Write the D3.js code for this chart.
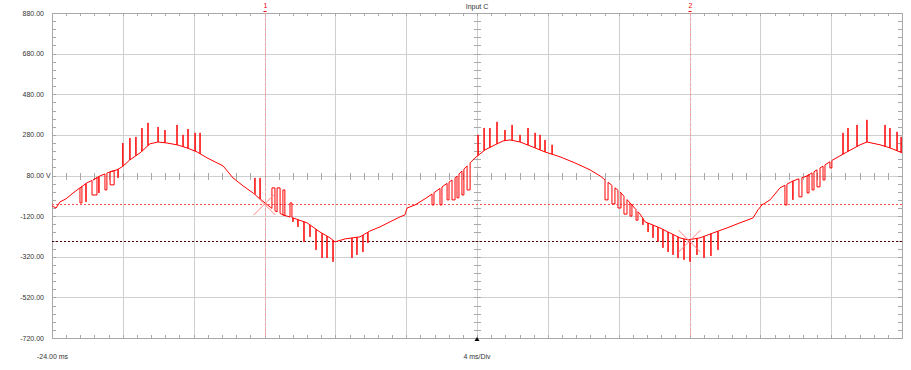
<!DOCTYPE html>
<html><head><meta charset="utf-8">
<script src="https://cdn.jsdelivr.net/npm/d3@7"></script>
<style>
html,body{margin:0;padding:0;background:#fff;}
svg{display:block;}
text{font-family:"Liberation Sans",Arial,sans-serif;}
</style></head>
<body>
<svg id="chart" width="911" height="370"></svg>
<script>
// ---- data (ms, V) ----
const title = "Input C";
const timeStart = -24, timeEnd = 24, msPerDiv = 4;
const voltTicks = [880, 680, 480, 280, 80, -120, -320, -520, -720];
const voltUnit = "V";
const bottomLeftLabel = "-24.00 ms";
const bottomCenterLabel = "4 ms/Div";
// base waveform
const baseT = [-24.00,-23.77,-23.55,-23.21,-22.81,-22.42,-22.02,-21.68,-21.29,-20.72,-20.33,-20.05,-19.60,-19.03,-18.47,-18.01,-17.51,-16.94,-16.38,-15.81,-15.25,-14.68,-14.34,-14.06,-13.78,-13.21,-12.65,-11.97,-11.41,-10.96,-10.39,-9.60,-8.87,-8.30,-8.02,-7.45,-6.61,-6.04,-5.48,-4.91,-4.35,-4.07,-3.95,-3.50,-2.94,-2.37,-1.81,-1.24,-0.68,-0.11,0.45,1.02,1.47,1.86,2.43,2.99,3.84,4.69,5.53,6.38,6.95,7.51,8.08,8.64,9.20,9.49,10.33,10.90,11.46,11.92,12.59,13.33,14.12,14.85,15.59,15.87,16.09,16.55,17.11,17.84,18.64,19.37,20.10,20.89,21.63,22.02,22.76,23.32,23.89,24.00];
const baseV = [-70,-80,-50,-35,-6,19,44,58,78,98,108,122,157,191,236,245,240,231,216,196,167,142,127,98,68,29,-6,-55,-94,-114,-129,-153,-198,-227,-247,-232,-222,-193,-173,-148,-124,-114,-80,-65,-35,-1,34,68,117,167,206,231,250,255,245,226,196,172,142,108,78,39,-1,-55,-109,-148,-178,-203,-227,-237,-227,-203,-178,-153,-129,-89,-65,-40,19,53,78,117,157,196,231,245,231,216,196,191];
// switching pulses: start time, duration (0 = single spike), level
const pulseT = [-22.42,-22.08,-21.74,-21.35,-21.01,-20.72,-20.27,
  -20.00,-19.60,-19.26,-18.92,-18.58,-18.01,-17.62,-16.94,-16.60,-16.32,-15.92,-15.64,
  -12.54,-12.25,-11.58,-11.29,-10.96,-10.56,
  -10.39,-10.11,-9.77,-9.43,-9.09,-8.75,-8.47,-8.13,-7.06,-6.78,-6.44,-6.16,
  -2.54,-2.09,-1.69,-1.41,-1.13,-0.85,-0.56,
  0.06,0.40,0.73,1.13,1.58,1.98,2.43,2.88,3.28,3.56,3.84,4.24,
  7.23,7.62,7.96,8.30,8.64,8.98,
  9.37,9.66,9.94,10.22,10.50,10.79,11.07,11.35,11.69,12.03,12.42,12.82,13.21,13.61,
  17.39,17.84,18.18,18.64,18.92,19.20,19.54,19.93,
  20.67,20.95,21.46,22.02,23.04,23.32,23.72,23.95];
const pulseW = [0.11,0,0.28,0,0.11,0.23,0,
  0,0,0,0,0,0,0,0,0,0,0,0,
  0,0,0.17,0.17,0.11,0.11,
  0,0,0,0,0,0,0,0,0,0,0,0,
  0.11,0.11,0.11,0.17,0.11,0.11,0.17,
  0,0,0,0,0,0,0,0,0,0,0,0,
  0.17,0.17,0.17,0.17,0.11,0.11,
  0,0,0,0,0,0,0,0,0,0,0,0,0,0,
  0.11,0,0.17,0.11,0.11,0.17,0.11,0.11,
  0,0,0,0,0,0,0,0];
const pulseV = [-55,-50,-16,-6,9,34,68,
  240,265,270,314,339,319,304,329,280,309,290,290,
  68,68,19,19,9,-55,
  -148,-173,-247,-222,-286,-326,-326,-345,-326,-311,-296,-252,
  -65,-65,-40,-40,-30,-16,9,
  280,314,314,344,304,329,280,314,290,280,255,231,
  -40,-60,-80,-110,-120,-140,
  -163,-198,-227,-247,-276,-296,-311,-326,-335,-345,-311,-326,-316,-286,
  -65,-40,-25,-6,9,24,58,117,
  290,314,329,354,329,314,295,270];
// cursors
const markerNames = ["1", "2"];
const markerT = [-12, 12];
const markerV = [-61, -243];

// ---- layout ----
const L = 52, R = 902, T = 13, B = 338;
const svg = d3.select("#chart");
const x = d3.scaleLinear().domain([timeStart, timeEnd]).range([L, R]);
const y = d3.scaleLinear().domain([-720, 880]).range([B, T]);
const gridCol = "#cfcfcf", tickCol = "#a8a8a8", textCol = "#333";

const g = svg.append("g");
const divT = d3.range(timeStart, timeEnd + 0.001, msPerDiv);
g.selectAll(".vg").data(divT).join("line")
  .attr("x1", d => Math.round(x(d)) + 0.5).attr("x2", d => Math.round(x(d)) + 0.5)
  .attr("y1", T).attr("y2", B).attr("stroke", gridCol).attr("stroke-width", 1);
g.selectAll(".hg").data(voltTicks).join("line")
  .attr("y1", d => Math.round(y(d)) + 0.5).attr("y2", d => Math.round(y(d)) + 0.5)
  .attr("x1", L).attr("x2", R).attr("stroke", gridCol).attr("stroke-width", 1);

const minorT = d3.range(timeStart, timeEnd + 0.001, msPerDiv / 5);
const minorV = d3.range(-720, 880.001, 40);
const tk = svg.append("g").attr("stroke", tickCol).attr("stroke-width", 1);
minorT.forEach(t => {
  const px = Math.round(x(t)) + 0.5;
  tk.append("line").attr("x1", px).attr("x2", px).attr("y1", T).attr("y2", T + 3);
  tk.append("line").attr("x1", px).attr("x2", px).attr("y1", B - 3).attr("y2", B);
  const cy = Math.round(y(80));
  tk.append("line").attr("x1", px).attr("x2", px).attr("y1", cy - 3).attr("y2", cy + 4);
});
minorV.forEach(v => {
  const py = Math.round(y(v)) + 0.5;
  tk.append("line").attr("y1", py).attr("y2", py).attr("x1", L).attr("x2", L + 4);
  tk.append("line").attr("y1", py).attr("y2", py).attr("x1", R - 4).attr("x2", R);
  const cx = Math.round(x(0));
  tk.append("line").attr("y1", py).attr("y2", py).attr("x1", cx - 3).attr("x2", cx + 4);
});
svg.append("rect").attr("x", L + 0.5).attr("y", T + 0.5).attr("width", R - L).attr("height", B - T)
  .attr("fill", "none").attr("stroke", tickCol);

svg.selectAll(".yl").data(voltTicks).join("text")
  .attr("x", 44).attr("y", d => y(d) + 2.5)
  .attr("text-anchor", "end").attr("font-size", 7).attr("fill", textCol)
  .text(d => d.toFixed(2));
svg.append("text").attr("x", 46).attr("y", y(80) + 2.5).attr("font-size", 7).attr("fill", textCol).text(voltUnit);

svg.append("text").attr("x", 37).attr("y", 359).attr("font-size", 7).attr("fill", textCol).text(bottomLeftLabel);
svg.append("text").attr("x", x(0)).attr("y", 359).attr("text-anchor", "middle").attr("font-size", 7).attr("fill", textCol).text(bottomCenterLabel);
svg.append("text").attr("x", x(0)).attr("y", 9).attr("text-anchor", "middle").attr("font-size", 7).attr("fill", textCol).text(title);
const tx = x(0);
svg.append("path").attr("d", `M${tx - 2.5},${B + 3}L${tx + 2.5},${B + 3}L${tx},${B - 1}Z`).attr("fill", "#000");

svg.append("line").attr("x1", L).attr("x2", R).attr("y1", Math.round(y(markerV[0])) + 0.5).attr("y2", Math.round(y(markerV[0])) + 0.5)
  .attr("stroke", "#ff5050").attr("stroke-dasharray", "2,2");
svg.append("line").attr("x1", L).attr("x2", R).attr("y1", Math.round(y(markerV[1])) + 0.5).attr("y2", Math.round(y(markerV[1])) + 0.5)
  .attr("stroke", "#500000").attr("stroke-dasharray", "2,2");
markerT.forEach((t, i) => {
  const px = Math.round(x(t)) + 0.5;
  svg.append("line").attr("x1", px).attr("x2", px).attr("y1", T).attr("y2", B)
    .attr("stroke", "#f4a0a0").attr("stroke-dasharray", "3,2");
  svg.append("text").attr("x", px).attr("y", 8).attr("text-anchor", "middle").attr("font-size", 7)
    .attr("fill", "#e00").text(markerNames[i]);
  svg.append("line").attr("x1", px - 2).attr("x2", px + 1).attr("y1", 11.5).attr("y2", 11.5).attr("stroke", "#e00");
});

const pulses = pulseT.map((t, i) => ({t0: t, t1: t + pulseW[i], v: pulseV[i]}));
const baseAt = t => {
  let i = d3.bisectRight(baseT, t) - 1;
  i = Math.max(0, Math.min(baseT.length - 2, i));
  const f = (t - baseT[i]) / (baseT[i + 1] - baseT[i]);
  return baseV[i] + f * (baseV[i + 1] - baseV[i]);
};
const pts = [];
let pi = 0;
for (let i = 0; i < baseT.length; i++) {
  while (pi < pulses.length && pulses[pi].t0 <= baseT[i]) {
    const p = pulses[pi];
    if (p.t1 > p.t0) pts.push([p.t0, baseAt(p.t0)], [p.t0, p.v], [p.t1, p.v], [p.t1, baseAt(p.t1)]);
    else pts.push([p.t0, baseAt(p.t0)], [p.t0, p.v], [p.t0, baseAt(p.t0)]);
    pi++;
  }
  pts.push([baseT[i], baseV[i]]);
}
const line = d3.line().x(d => x(d[0])).y(d => y(d[1]));
svg.append("path").datum(pts).attr("d", line).attr("fill", "none").attr("stroke", "#ff0000").attr("stroke-width", 1);

markerT.forEach((t, i) => {
  const cx = x(t), cy = y(markerV[i]), s = 11;
  svg.append("path").attr("d", `M${cx - s},${cy - s}L${cx + s},${cy + s}M${cx - s},${cy + s}L${cx + s},${cy - s}`)
    .attr("stroke", "#ff8080").attr("stroke-width", 1).attr("fill", "none");
});
</script>
</body></html>
